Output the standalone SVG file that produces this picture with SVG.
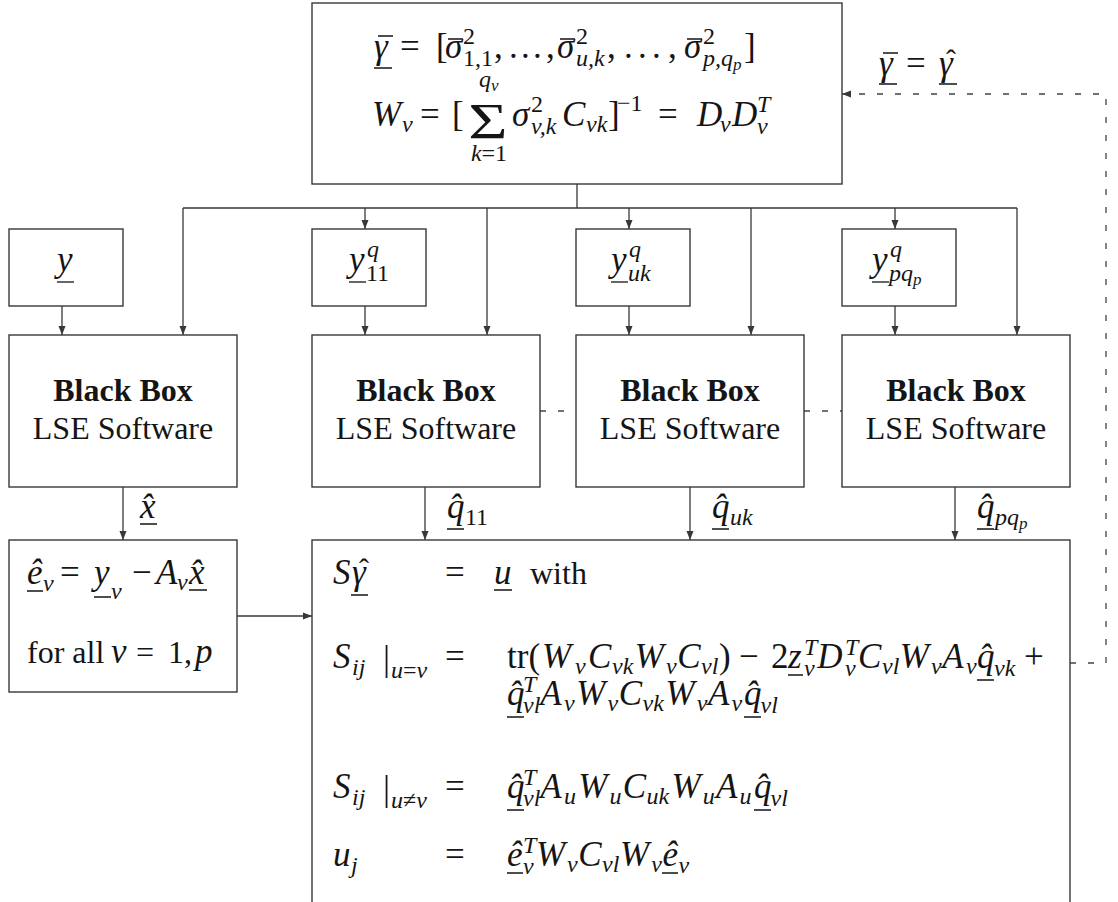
<svg xmlns="http://www.w3.org/2000/svg" width="1118" height="902" viewBox="0 0 1118 902">
<defs>
<style>
.box{fill:#fff;stroke:#383838;stroke-width:1.4}
.ln{fill:none;stroke:#383838;stroke-width:1.3}
.dash{fill:none;stroke:#444;stroke-width:1.3;stroke-dasharray:6 12}
text{font-family:"Liberation Serif",serif;fill:#151515}
.m{font-style:italic;font-size:35px}
.s{font-size:24px}
.ss{font-size:17px}
.u{font-style:normal}
.b{font-weight:bold;font-size:32px}
.t{font-size:32px}
.hat{font-size:30px;font-style:normal}
.ul{stroke:#151515;stroke-width:1.3}
</style>
<marker id="ah" markerUnits="userSpaceOnUse" markerWidth="9" markerHeight="8" refX="9" refY="4" orient="auto"><path d="M0,0.5 L9,4 L0,7.5 z" fill="#383838"/></marker>
</defs>
<rect width="1118" height="902" fill="#fff"/>

<g id="connectors">
<path class="ln" d="M577,184 V208 M183,208 H1017"/>
<path class="ln" marker-end="url(#ah)" d="M183,208 V335"/>
<path class="ln" marker-end="url(#ah)" d="M365,208 V229"/>
<path class="ln" marker-end="url(#ah)" d="M487,208 V335"/>
<path class="ln" marker-end="url(#ah)" d="M629,208 V229"/>
<path class="ln" marker-end="url(#ah)" d="M751,208 V335"/>
<path class="ln" marker-end="url(#ah)" d="M895,208 V229"/>
<path class="ln" marker-end="url(#ah)" d="M1017,208 V335"/>
<path class="ln" marker-end="url(#ah)" d="M62,306 V335"/>
<path class="ln" marker-end="url(#ah)" d="M365,306 V335"/>
<path class="ln" marker-end="url(#ah)" d="M629,306 V335"/>
<path class="ln" marker-end="url(#ah)" d="M895,306 V335"/>
<path class="ln" marker-end="url(#ah)" d="M123,487 V540"/>
<path class="ln" marker-end="url(#ah)" d="M425,487 V540"/>
<path class="ln" marker-end="url(#ah)" d="M690,487 V540"/>
<path class="ln" marker-end="url(#ah)" d="M955,487 V540"/>
<path class="ln" marker-end="url(#ah)" d="M237,616 H312"/>
<path class="dash" d="M540,411 H576 M804,411 H842" stroke-dasharray="6 6"/>
<path class="dash" marker-end="url(#ah)" d="M1070,663 H1106 V94 H842"/>
</g>

<g id="top-box">
<rect class="box" x="312" y="3" width="530" height="181"/>
<text class="m">
<tspan x="374" y="58">γ</tspan>
<tspan class="u" x="400" y="58">=</tspan>
<tspan class="u" x="436" y="58">[</tspan>
<tspan x="445" y="58">σ</tspan>
<tspan class="s u" x="463" y="44">2</tspan>
<tspan class="s u" x="463" y="66">1,1</tspan>
<tspan class="u" x="494" y="58">,</tspan>
<tspan class="u" x="509" y="58">.</tspan>
<tspan class="u" x="521" y="58">.</tspan>
<tspan class="u" x="533" y="58">.</tspan>
<tspan class="u" x="546" y="58">,</tspan>
<tspan x="557" y="58">σ</tspan>
<tspan class="s u" x="576" y="44">2</tspan>
<tspan class="s" x="576" y="66">u,k</tspan>
<tspan class="u" x="607" y="58">,</tspan>
<tspan class="u" x="624" y="58">.</tspan>
<tspan class="u" x="638" y="58">.</tspan>
<tspan class="u" x="652" y="58">.</tspan>
<tspan class="u" x="668" y="58">,</tspan>
<tspan x="684" y="58">σ</tspan>
<tspan class="s u" x="703" y="44">2</tspan>
<tspan class="s" x="703" y="66">p,q</tspan>
<tspan class="ss" x="733" y="70">p</tspan>
<tspan class="u" x="744" y="58">]</tspan>
</text>
<path class="ul" d="M378,36 H393 M448,39 H463 M560,39 H575 M687,39 H702 M374,68 H392"/>
<text class="m">
<tspan x="372" y="126">W</tspan>
<tspan class="s" x="402" y="132">v</tspan>
<tspan class="u" x="420" y="126">=</tspan>
<tspan class="u" x="452" y="126">[</tspan>
<tspan x="512" y="126">σ</tspan>
<tspan class="s u" x="531" y="112">2</tspan>
<tspan class="s" x="531" y="134">v,k</tspan>
<tspan x="562" y="126">C</tspan>
<tspan class="s" x="586" y="132">vk</tspan>
<tspan class="u" x="608" y="126">]</tspan>
<tspan class="s u" x="617" y="111">−1</tspan>
<tspan class="u" x="658" y="126">=</tspan>
<tspan x="697" y="126">D</tspan>
<tspan class="s" x="720" y="132">v</tspan>
<tspan x="732" y="126">D</tspan>
<tspan class="s" x="757" y="112">T</tspan>
<tspan class="s" x="757" y="134">v</tspan>
</text>
<text class="u" font-size="50" text-anchor="middle" transform="translate(488,138) scale(1.35,1)">Σ</text>
<text class="m"><tspan class="s" x="479" y="87">q</tspan><tspan class="ss" x="491" y="91">v</tspan></text>
<text class="m s" x="489" y="161" text-anchor="middle">k<tspan class="u">=1</tspan></text>
</g>

<g id="feedback-label">
<text class="m"><tspan x="879" y="75">γ</tspan><tspan class="u" x="906" y="75">=</tspan><tspan x="939" y="75">γ</tspan></text>
<text class="hat" x="951" y="70" text-anchor="middle">ˆ</text>
<path class="ul" d="M883,53 H898 M879,84 H897 M939,84 H957"/>
</g>

<g id="node-y">
<rect class="box" x="9" y="229" width="114" height="77"/>
<text class="m" x="57" y="271">y</text>
<path class="ul" d="M57,282 H74"/>
</g>
<g id="node-y11">
<rect class="box" x="312" y="229" width="114" height="77"/>
<text class="m"><tspan x="349" y="271">y</tspan><tspan class="s" x="367" y="257">q</tspan><tspan class="s u" x="366" y="281">11</tspan></text>
<path class="ul" d="M349,282 H366"/>
</g>
<g id="node-yuk">
<rect class="box" x="576" y="229" width="114" height="77"/>
<text class="m"><tspan x="611" y="271">y</tspan><tspan class="s" x="629" y="257">q</tspan><tspan class="s" x="628" y="281">uk</tspan></text>
<path class="ul" d="M611,282 H628"/>
</g>
<g id="node-ypq">
<rect class="box" x="842" y="229" width="114" height="77"/>
<text class="m"><tspan x="872" y="271">y</tspan><tspan class="s" x="890" y="257">q</tspan><tspan class="s" x="889" y="281">pq</tspan><tspan class="ss" x="913" y="285">p</tspan></text>
<path class="ul" d="M872,282 H889"/>
</g>

<g id="bb1">
<rect class="box" x="9" y="335" width="228" height="152"/>
<text class="b" x="123" y="401" text-anchor="middle">Black Box</text>
<text class="t" x="123" y="439" text-anchor="middle">LSE Software</text>
</g>
<g id="bb2">
<rect class="box" x="312" y="335" width="228" height="152"/>
<text class="b" x="426" y="401" text-anchor="middle">Black Box</text>
<text class="t" x="426" y="439" text-anchor="middle">LSE Software</text>
</g>
<g id="bb3">
<rect class="box" x="576" y="335" width="228" height="152"/>
<text class="b" x="690" y="401" text-anchor="middle">Black Box</text>
<text class="t" x="690" y="439" text-anchor="middle">LSE Software</text>
</g>
<g id="bb4">
<rect class="box" x="842" y="335" width="228" height="152"/>
<text class="b" x="956" y="401" text-anchor="middle">Black Box</text>
<text class="t" x="956" y="439" text-anchor="middle">LSE Software</text>
</g>

<g id="edge-labels">
<text class="m" x="140" y="518">x&#x302;</text>
<text class="m"><tspan x="447" y="518">q&#x302;</tspan><tspan class="s u" x="465" y="525">11</tspan></text>
<text class="m"><tspan x="712" y="518">q&#x302;</tspan><tspan class="s" x="730" y="525">uk</tspan></text>
<text class="m"><tspan x="977" y="518">q&#x302;</tspan><tspan class="s" x="995" y="525">pq</tspan><tspan class="ss" x="1019" y="529">p</tspan></text>
<path class="ul" d="M140,524 H157 M447,529 H464 M712,529 H729 M977,529 H994"/>
</g>

<g id="residual-box">
<rect class="box" x="9" y="540" width="228" height="152"/>
<text class="m">
<tspan x="27" y="584">e&#x302;</tspan><tspan class="s" x="43" y="591">v</tspan>
<tspan class="u" x="60" y="584">=</tspan>
<tspan x="94" y="584">y</tspan><tspan class="s" x="111" y="599">v</tspan>
<tspan class="u" x="132" y="584">−</tspan>
<tspan x="156" y="584">A</tspan><tspan class="s" x="177" y="590">v</tspan>
<tspan x="189" y="584">x&#x302;</tspan>
</text>
<path class="ul" d="M27,591 H43 M94,597 H111 M189,590 H207"/>
<text class="t" x="27" y="663">for all <tspan class="m" x="111">v</tspan><tspan x="136">=</tspan><tspan x="168">1,</tspan><tspan class="m" x="195">p</tspan></text>
</g>

<g id="estimation-box">
<rect class="box" x="312" y="540" width="758" height="380"/>
<text class="m">
<tspan x="333" y="584">S</tspan><tspan x="352" y="584">γ</tspan>
<tspan class="u" x="445" y="584">=</tspan>
<tspan x="494" y="584">u</tspan>
</text>
<text class="hat" x="364" y="579" text-anchor="middle">ˆ</text>
<text class="t" x="530" y="584">with</text>
<path class="ul" d="M351,595 H368 M494,590 H512"/>

<text class="m">
<tspan x="333" y="668">S</tspan><tspan class="s" x="352" y="675">ij</tspan>
<tspan class="u" x="383" y="670">|</tspan><tspan class="s" x="391" y="678">u<tspan class="u">=</tspan>v</tspan>
<tspan class="u" x="445" y="668">=</tspan>
<tspan class="u" x="507" y="668">tr(</tspan>
<tspan x="542" y="668">W</tspan><tspan class="s" x="575" y="674">v</tspan>
<tspan x="588" y="668">C</tspan><tspan class="s" x="612" y="674">vk</tspan>
<tspan x="634.8" y="668">W</tspan><tspan class="s" x="666" y="674">v</tspan>
<tspan x="677.2" y="668">C</tspan><tspan class="s" x="701" y="674">vl</tspan>
<tspan class="u" x="719" y="668">)</tspan>
<tspan class="u" x="739" y="668">−</tspan>
<tspan class="u" x="771" y="668">2</tspan>
<tspan x="788" y="668">z</tspan><tspan class="s" x="804" y="655">T</tspan><tspan class="s" x="804" y="676">v</tspan>
<tspan x="817.3" y="668">D</tspan><tspan class="s" x="845" y="655">T</tspan><tspan class="s" x="845" y="676">v</tspan>
<tspan x="858.1" y="668">C</tspan><tspan class="s" x="882" y="674">vl</tspan>
<tspan x="899.8" y="668">W</tspan><tspan class="s" x="931" y="674">v</tspan>
<tspan x="942.2" y="668">A</tspan><tspan class="s" x="966" y="674">v</tspan>
<tspan x="977" y="668">q&#x302;</tspan><tspan class="s" x="994" y="676">vk</tspan>
<tspan class="u" x="1024" y="668">+</tspan>
</text>
<path class="ul" d="M788,675 H803 M977,680 H994"/>

<text class="m">
<tspan x="507" y="705">q&#x302;</tspan><tspan class="s" x="523" y="692">T</tspan><tspan class="s" x="523" y="713">vl</tspan>
<tspan x="540.3" y="705">A</tspan><tspan class="s" x="564" y="711">v</tspan>
<tspan x="576.3" y="705">W</tspan><tspan class="s" x="607.5" y="711">v</tspan>
<tspan x="618.7" y="705">C</tspan><tspan class="s" x="642.5" y="711">vk</tspan>
<tspan x="665.5" y="705">W</tspan><tspan class="s" x="696.7" y="711">v</tspan>
<tspan x="707.9" y="705">A</tspan><tspan class="s" x="731.5" y="711">v</tspan>
<tspan x="743.9" y="705">q&#x302;</tspan><tspan class="s" x="760.5" y="713">vl</tspan>
</text>
<path class="ul" d="M507,717 H524 M744,717 H761"/>

<text class="m">
<tspan x="333" y="798">S</tspan><tspan class="s" x="352" y="805">ij</tspan>
<tspan class="u" x="383" y="800">|</tspan><tspan class="s" x="391" y="808">u<tspan class="u">≠</tspan>v</tspan>
<tspan class="u" x="445" y="798">=</tspan>
<tspan x="507" y="798">q&#x302;</tspan><tspan class="s" x="523" y="785">T</tspan><tspan class="s" x="523" y="806">vl</tspan>
<tspan x="540.3" y="798">A</tspan><tspan class="s" x="564" y="804">u</tspan>
<tspan x="578.3" y="798">W</tspan><tspan class="s" x="609.5" y="804">u</tspan>
<tspan x="622.7" y="798">C</tspan><tspan class="s" x="646.5" y="804">uk</tspan>
<tspan x="671.5" y="798">W</tspan><tspan class="s" x="702.7" y="804">u</tspan>
<tspan x="715.9" y="798">A</tspan><tspan class="s" x="739.5" y="804">u</tspan>
<tspan x="753.9" y="798">q&#x302;</tspan><tspan class="s" x="770.5" y="806">vl</tspan>
</text>
<path class="ul" d="M507,810 H524 M754,810 H771"/>

<text class="m">
<tspan x="333" y="866">u</tspan><tspan class="s" x="351" y="873">j</tspan>
<tspan class="u" x="445" y="866">=</tspan>
<tspan x="507" y="866">e&#x302;</tspan><tspan class="s" x="523" y="853">T</tspan><tspan class="s" x="523" y="874">v</tspan>
<tspan x="535.9" y="866">W</tspan><tspan class="s" x="567.1" y="872">v</tspan>
<tspan x="578.3" y="866">C</tspan><tspan class="s" x="602" y="872">vl</tspan>
<tspan x="620" y="866">W</tspan><tspan class="s" x="651.2" y="872">v</tspan>
<tspan x="662.4" y="866">e&#x302;</tspan><tspan class="s" x="678.5" y="873">v</tspan>
</text>
<path class="ul" d="M507,873 H523 M662,873 H678"/>
</g>
</svg>
